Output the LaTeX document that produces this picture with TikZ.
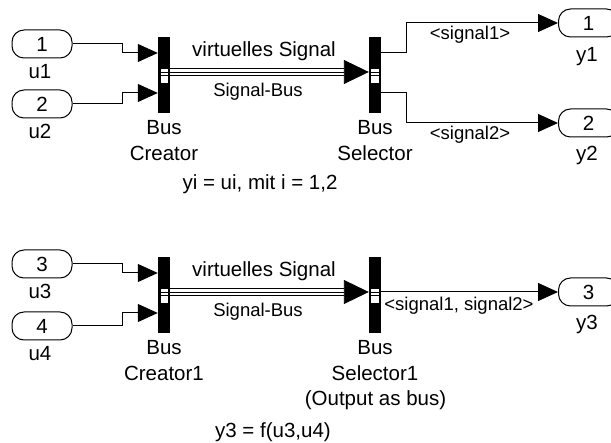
\documentclass[tikz,border=0pt]{standalone}
\usepackage{fontspec}
\setmainfont{Liberation Sans}
\usetikzlibrary{arrows.meta, positioning, calc}

\tikzset{
  portbox/.style={draw, line width=1pt, rounded corners=12pt, minimum width=60pt,
    minimum height=28pt, inner sep=0pt, font=\fontsize{20.5}{24}\selectfont},
  busbar/.style={fill=black, minimum width=12pt, minimum height=76pt, inner sep=0pt},
  lbl/.style={font=\fontsize{20.5}{24}\selectfont, anchor=base, inner sep=0pt},
  lblsmall/.style={font=\fontsize{18.5}{22}\selectfont, anchor=base, inner sep=0pt},
  sigline/.style={line width=1pt, -{Triangle[length=20pt,width=18pt]}},
  busline/.style={line width=0.9pt}
}

\begin{document}
\begin{tikzpicture}[x=1pt, y=-1pt]
  \useasboundingbox (0,0) rectangle (611,443);

  % Eingaenge
  \foreach \n/\y in {1/44, 2/104, 3/264, 4/326} {
    \node[portbox] (in\n) at (42,\y) {\n};
    \node[lbl] (u\n) at (40,\y+35) {u\n};
  }

  % Bus Creator und Bus Selector
  \foreach \k/\dy/\sfx in {1/0/{}, 2/220/1} {
    \node[busbar] (bc\k) at (164,75+\dy) {};
    \node[busbar] (bs\k) at (375,75+\dy) {};
    \node[lbl] (bcbus\k) at (164,135+\dy) {Bus};
    \node[lbl] (bcname\k) at (164,161+\dy) {Creator\sfx};
    \node[lbl] (bsbus\k) at (375,135+\dy) {Bus};
    \node[lbl] (bsname\k) at (375,161+\dy) {Selector\sfx};
    \node[lbl] (vs\k) at (264,57+\dy) {virtuelles Signal};
    \node[lblsmall] (sb\k) at (258,97+\dy) {Signal-Bus};
    % Bus
    \coordinate (bus\k) at (161,72+\dy);
    \fill[white] ($(bus\k)+(0,-4)$) rectangle ++(7,15);
    \fill[white] ($(bs\k.west |- bus\k)+(2,-3)$) rectangle ++(8,14);
    \foreach \d in {-3.5,0,3.5} {
      \draw[busline] ($(bus\k)+(0,\d)$) -- ($(bs\k.west |- bus\k)+(-25,\d)$);
      \draw[busline] ($(bs\k.west |- bus\k)+(0,\d)$) -- ++(10,0);
    }
    \draw[busline, -{Triangle[length=25pt,width=24pt]}] (bus\k) -- (bs\k.west |- bus\k);
  }

  % Signale zum Bus Creator
  \foreach \n/\b/\y in {1/bc1/53, 2/bc1/93, 3/bc2/273, 4/bc2/313}
    \draw[sigline] (in\n.east) -- ++(50,0) |- (\b.west |- 0,\y);

  % Ausgaenge
  \node[portbox, anchor=west] (out1) at (558,23) {1};
  \node[lbl] (y1) at (587,62) {y1};
  \node[portbox, anchor=west] (out2) at (558,123) {2};
  \node[lbl] (y2) at (587,161) {y2};
  \node[portbox, anchor=west] (out3) at (558,292) {3};
  \node[lbl] (y3) at (587,330) {y3};

  \draw[sigline] (bs1.east |- 0,53) -- ++(25,0) |- (out1.west);
  \draw[sigline] (bs1.east |- 0,93) -- ++(25,0) |- (out2.west);
  \draw[sigline] (bs2.east |- out3) -- (out3.west);

  \node[lblsmall] (sig1) at (470,40) {<signal1>};
  \node[lblsmall] (sig2) at (470,140) {<signal2>};
  \node[lblsmall] (sig12) at (459,311) {<signal1, signal2>};

  % Beschriftungen
  \node[lbl] (outbus) at (375.5,406) {(Output as bus)};
  \node[lbl] (eqa) at (260,190) {yi = ui, mit i = 1,2};
  \node[lbl] (eqb) at (273,438) {y3 = f(u3,u4)};
\end{tikzpicture}
\end{document}
